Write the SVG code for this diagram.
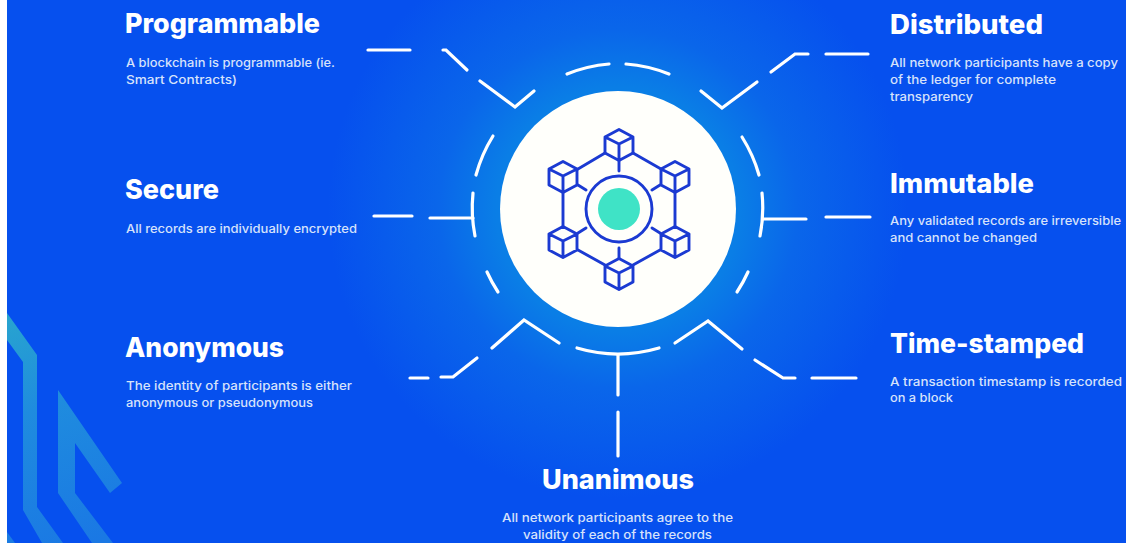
<svg xmlns="http://www.w3.org/2000/svg" width="1126" height="543" viewBox="0 0 1126 543">
<style>
.h{font-family:Inter,"Liberation Sans",sans-serif;font-weight:800;font-size:27px;fill:#fff}
.b{font-family:Inter,"Liberation Sans",sans-serif;font-weight:500;font-size:12px;fill:#d6e2fb}
.c{fill:none;stroke:#fff;stroke-width:3.2;stroke-linecap:round;stroke-linejoin:miter}
.i{fill:none;stroke:#1b3ad2;stroke-width:2.9;stroke-linecap:round;stroke-linejoin:round}
</style>
<defs>
<radialGradient id="glow" gradientUnits="userSpaceOnUse" cx="618" cy="209" r="290">
<stop offset="0" stop-color="#0a80e6"/><stop offset="0.42" stop-color="#0a7ee6"/><stop offset="0.62" stop-color="#0a66ea"/><stop offset="1" stop-color="#0650ee"/>
</radialGradient>
<linearGradient id="deco" gradientUnits="userSpaceOnUse" x1="10" y1="315" x2="90" y2="543">
<stop offset="0" stop-color="#28a4cf"/><stop offset="0.4" stop-color="#1f8cde"/><stop offset="1" stop-color="#1a78e4"/>
</linearGradient>
<g id="cube">
<path class="i" d="M0 -15.500L14 -8V8L0 15.500L-14 8V-8Z M-14 -8L0 -1L14 -8 M0 -1V15.500"/>
</g>
</defs>
<rect width="1126" height="543" fill="#fff"/>
<rect x="7" width="1119" height="543" fill="#0650ee"/>
<rect x="7" width="1119" height="543" fill="url(#glow)"/>
<g id="decoration">
<path fill="url(#deco)" d="M7 313L37 355V507L63 543H42L23 510V362L7 340Z"/>
<path fill="url(#deco)" d="M7 532L15 543H7Z"/>
<path fill="url(#deco)" d="M58 390L122 483L110 493L75 443V493L113 543H92L58 493Z"/>
</g>
<g id="connectors">
<path class="c" d="M368 50H410"/>
<path class="c" d="M443 50H446L467 70"/>
<path class="c" d="M480 81L515 107L534 91"/>
<path class="c" d="M567 74A145 145 0 0 1 609 64"/>
<path class="c" d="M626 64A145 145 0 0 1 669 74"/>
<path class="c" d="M701 91L722 108L757 82"/>
<path class="c" d="M771 72L795 54H808"/>
<path class="c" d="M826 54H868"/>
<path class="c" d="M493 136A145 145 0 0 0 476 175"/>
<path class="c" d="M473 193A145 145 0 0 0 475 236"/>
<path class="c" d="M430 218H473"/>
<path class="c" d="M374 216H412"/>
<path class="c" d="M742 137A145 145 0 0 1 759 175"/>
<path class="c" d="M762 193A145 145 0 0 1 760 236"/>
<path class="c" d="M763 219H806"/>
<path class="c" d="M826 217H870"/>
<path class="c" d="M487 272A145 145 0 0 0 498 292"/>
<path class="c" d="M748 272A145 145 0 0 1 737 292"/>
<path class="c" d="M410 378H428"/>
<path class="c" d="M441 377H453L477 358"/>
<path class="c" d="M492 348L524 320L559 343"/>
<path class="c" d="M675 343L708 321L742 349"/>
<path class="c" d="M755 360L783 378H795"/>
<path class="c" d="M812 378H856"/>
<path class="c" d="M577 348A145 145 0 0 0 659 348"/>
<path class="c" d="M618 355V395"/>
<path class="c" d="M618 412V456"/>
</g>
<g id="hub">
<circle cx="618" cy="209" r="118" fill="#fffffb"/>
<use href="#cube" x="619" y="145"/>
<use href="#cube" x="563" y="177"/>
<use href="#cube" x="675" y="177"/>
<use href="#cube" x="563" y="242"/>
<use href="#cube" x="675" y="242"/>
<use href="#cube" x="619" y="274"/>
<path class="i" d="M605 153L578 169M633 153L661 169M563 193V226M675 193V226M578 250L605 265M660 250L633 265M619 161V171M619 248V258M578 185L586 190M660 185L652 190M578 233L586 228M652 228L660 233"/>
<circle cx="619" cy="209" r="33" class="i"/>
<circle cx="619" cy="209" r="21" fill="#3fe3c6"/>
</g>
<g id="programmable">
<text class="h" x="125" y="33" textLength="195" lengthAdjust="spacingAndGlyphs">Programmable</text>
<text class="b" x="126" y="67" textLength="209" lengthAdjust="spacingAndGlyphs">A blockchain is programmable (ie.</text>
<text class="b" x="126" y="84" textLength="111" lengthAdjust="spacingAndGlyphs">Smart Contracts)</text>
</g>
<g id="secure">
<text class="h" x="125" y="199" textLength="94" lengthAdjust="spacingAndGlyphs">Secure</text>
<text class="b" x="126" y="233" textLength="231" lengthAdjust="spacingAndGlyphs">All records are individually encrypted</text>
</g>
<g id="anonymous">
<text class="h" x="125" y="357" textLength="159" lengthAdjust="spacingAndGlyphs">Anonymous</text>
<text class="b" x="126" y="390" textLength="226" lengthAdjust="spacingAndGlyphs">The identity of participants is either</text>
<text class="b" x="126" y="407" textLength="187" lengthAdjust="spacingAndGlyphs">anonymous or pseudonymous</text>
</g>
<g id="distributed">
<text class="h" x="890" y="34" textLength="153" lengthAdjust="spacingAndGlyphs">Distributed</text>
<text class="b" x="890" y="67" textLength="228" lengthAdjust="spacingAndGlyphs">All network participants have a copy</text>
<text class="b" x="890" y="84" textLength="166" lengthAdjust="spacingAndGlyphs">of the ledger for complete</text>
<text class="b" x="890" y="101" textLength="83" lengthAdjust="spacingAndGlyphs">transparency</text>
</g>
<g id="immutable">
<text class="h" x="890" y="193" textLength="144" lengthAdjust="spacingAndGlyphs">Immutable</text>
<text class="b" x="890" y="225" textLength="231" lengthAdjust="spacingAndGlyphs">Any validated records are irreversible</text>
<text class="b" x="890" y="242" textLength="147" lengthAdjust="spacingAndGlyphs">and cannot be changed</text>
</g>
<g id="time-stamped">
<text class="h" x="890" y="353" textLength="194" lengthAdjust="spacingAndGlyphs">Time-stamped</text>
<text class="b" x="890" y="386" textLength="232" lengthAdjust="spacingAndGlyphs">A transaction timestamp is recorded</text>
<text class="b" x="890" y="402" textLength="63" lengthAdjust="spacingAndGlyphs">on a block</text>
</g>
<g id="unanimous">
<text class="h" x="542" y="489" textLength="152" lengthAdjust="spacingAndGlyphs">Unanimous</text>
<text class="b" x="502" y="522" textLength="231" lengthAdjust="spacingAndGlyphs">All network participants agree to the</text>
<text class="b" x="523" y="539" textLength="189" lengthAdjust="spacingAndGlyphs">validity of each of the records</text>
</g>
</svg>
